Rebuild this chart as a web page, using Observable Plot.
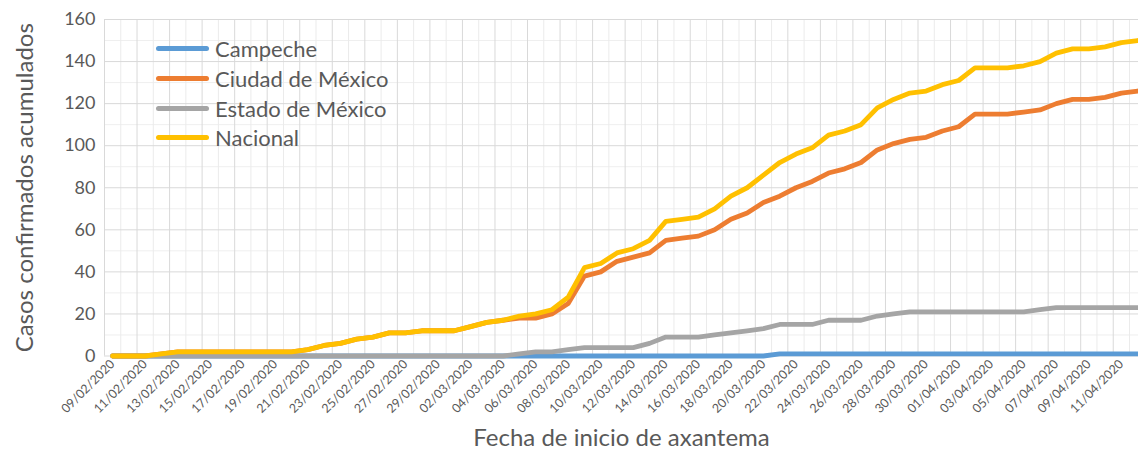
<!DOCTYPE html>
<html><head><meta charset="utf-8">
<script src="https://cdn.jsdelivr.net/npm/d3@7"></script>
<script src="https://cdn.jsdelivr.net/npm/@observablehq/plot@0.6"></script>
<style>
html,body{margin:0;padding:0;background:#fff;overflow:hidden;}
#wrap{position:relative;width:1138px;height:450px;overflow:hidden;font-family:Lato,sans-serif;}
#wrap svg{overflow:hidden;display:block;}
#legend{position:absolute;left:156px;top:34px;}
.item{display:flex;align-items:center;height:29.7px;font-size:22px;color:#595959;font-family:Lato,sans-serif;}
.sw{width:53px;height:5px;border-radius:3px;margin-right:6px;}
</style></head><body><div id="wrap"><div id="legend"></div></div>
<script>
const fechas = [
"09/02/2020","10/02/2020","11/02/2020","12/02/2020","13/02/2020","14/02/2020","15/02/2020","16/02/2020","17/02/2020","18/02/2020",
"19/02/2020","20/02/2020","21/02/2020","22/02/2020","23/02/2020","24/02/2020","25/02/2020","26/02/2020","27/02/2020","28/02/2020",
"29/02/2020","01/03/2020","02/03/2020","03/03/2020","04/03/2020","05/03/2020","06/03/2020","07/03/2020","08/03/2020","09/03/2020",
"10/03/2020","11/03/2020","12/03/2020","13/03/2020","14/03/2020","15/03/2020","16/03/2020","17/03/2020","18/03/2020","19/03/2020",
"20/03/2020","21/03/2020","22/03/2020","23/03/2020","24/03/2020","25/03/2020","26/03/2020","27/03/2020","28/03/2020","29/03/2020",
"30/03/2020","31/03/2020","01/04/2020","02/04/2020","03/04/2020","04/04/2020","05/04/2020","06/04/2020","07/04/2020","08/04/2020",
"09/04/2020","10/04/2020","11/04/2020","12/04/2020"];
const series = ["Campeche","Ciudad de México","Estado de México","Nacional"];
const colores = ["#5B9BD5","#ED7D31","#A5A5A5","#FFC000"];
const campeche = [
0,0,0,0,0,0,0,0,0,0, 0,0,0,0,0,0,0,0,0,0, 0,0,0,0,0,0,0,0,0,0,
0,0,0,0,0,0,0,0,0,0, 0,1,1,1,1,1,1,1,1,1, 1,1,1,1,1,1,1,1,1,1, 1,1,1,1];
const cdmx = [
0,0,0,1,2,2,2,2,2,2, 2,2,3,5,6,8,9,11,11,12, 12,12,14,16,17,18,18,20,25,38,
40,45,47,49,55,56,57,60,65,68, 73,76,80,83,87,89,92,98,101,103, 104,107,109,115,115,115,116,117,120,122, 122,123,125,126];
const edomex = [
0,0,0,0,0,0,0,0,0,0, 0,0,0,0,0,0,0,0,0,0, 0,0,0,0,0,1,2,2,3,4,
4,4,4,6,9,9,9,10,11,12, 13,15,15,15,17,17,17,19,20,21, 21,21,21,21,21,21,21,22,23,23, 23,23,23,23];
const nacional = [
0,0,0,1,2,2,2,2,2,2, 2,2,3,5,6,8,9,11,11,12, 12,12,14,16,17,19,20,22,28,42,
44,49,51,55,64,65,66,70,76,80, 86,92,96,99,105,107,110,118,122,125, 126,129,131,137,137,137,138,140,144,146, 146,147,149,150];
const yTicks = [0,20,40,60,80,100,120,140,160];
const yMinor = [10,30,50,70,90,110,130,150];
const tituloY = "Casos confirmados acumulados";
const tituloX = "Fecha de inicio de axantema";

const valores = [campeche, cdmx, edomex, nacional];
const rows = [];
series.forEach((s, k) => valores[k].forEach((v, i) => rows.push({serie: s, i, v})));

const n = fechas.length;
const bounds = d3.range(0, n + 1).map(k => k - 0.5);
const boundsMajor = bounds.filter((b, k) => k % 2 === 0);
const boundsMinor = bounds.filter((b, k) => k % 2 === 1);
const labelIdx = d3.range(0, n, 2);

const chart = Plot.plot({
  width: 1138, height: 450,
  marginLeft: 104, marginTop: 19, marginBottom: 94.5, marginRight: 0,
  x: {domain: [-0.5, n - 0.5], range: [104, 104 + n * 16.27]},
  y: {domain: [0, 160], range: [355.5, 19]},
  color: {domain: series, range: colores},
  style: {fontFamily: "Lato, sans-serif", color: "#595959", background: "white"},
  marks: [
    Plot.gridY(yMinor, {stroke: "#EFEFEF", strokeOpacity: 1}),
    Plot.gridX(boundsMinor, {stroke: "#EBEBEB", strokeOpacity: 1}),
    Plot.gridX(boundsMajor, {stroke: "#D9D9D9", strokeOpacity: 1}),
    Plot.gridY(yTicks, {stroke: "#D9D9D9", strokeOpacity: 1}),
    Plot.axisY(yTicks, {tickSize: 0, tickPadding: 9, fontSize: 18, label: null, fill: "#595959"}),
    Plot.axisX(labelIdx, {tickSize: 0, tickPadding: 6, tickRotate: -45, fontSize: 12.5, label: null,
      tickFormat: i => fechas[i], fill: "#595959"}),
    Plot.line(rows, {x: "i", y: "v", z: "serie", stroke: "serie", strokeWidth: 4.8,
      strokeLinejoin: "round", strokeLinecap: "round"}),
    Plot.text([tituloY], {text: d => d, frameAnchor: "left", dx: -79, rotate: -90, fontSize: 24,
      textAnchor: "middle", lineAnchor: "middle", fill: "#595959"}),
    Plot.text([tituloX], {text: d => d, frameAnchor: "bottom", dy: 82, fontSize: 24,
      textAnchor: "middle", lineAnchor: "middle", fill: "#595959"})
  ]
});
const wrap = document.getElementById("wrap");
wrap.insertBefore(chart, wrap.firstChild);

const legend = document.getElementById("legend");
series.forEach((s, k) => {
  const it = document.createElement("div");
  it.className = "item";
  const sw = document.createElement("span");
  sw.className = "sw";
  sw.style.background = colores[k];
  const t = document.createElement("span");
  t.textContent = s;
  it.appendChild(sw); it.appendChild(t);
  legend.appendChild(it);
});
</script></body></html>
